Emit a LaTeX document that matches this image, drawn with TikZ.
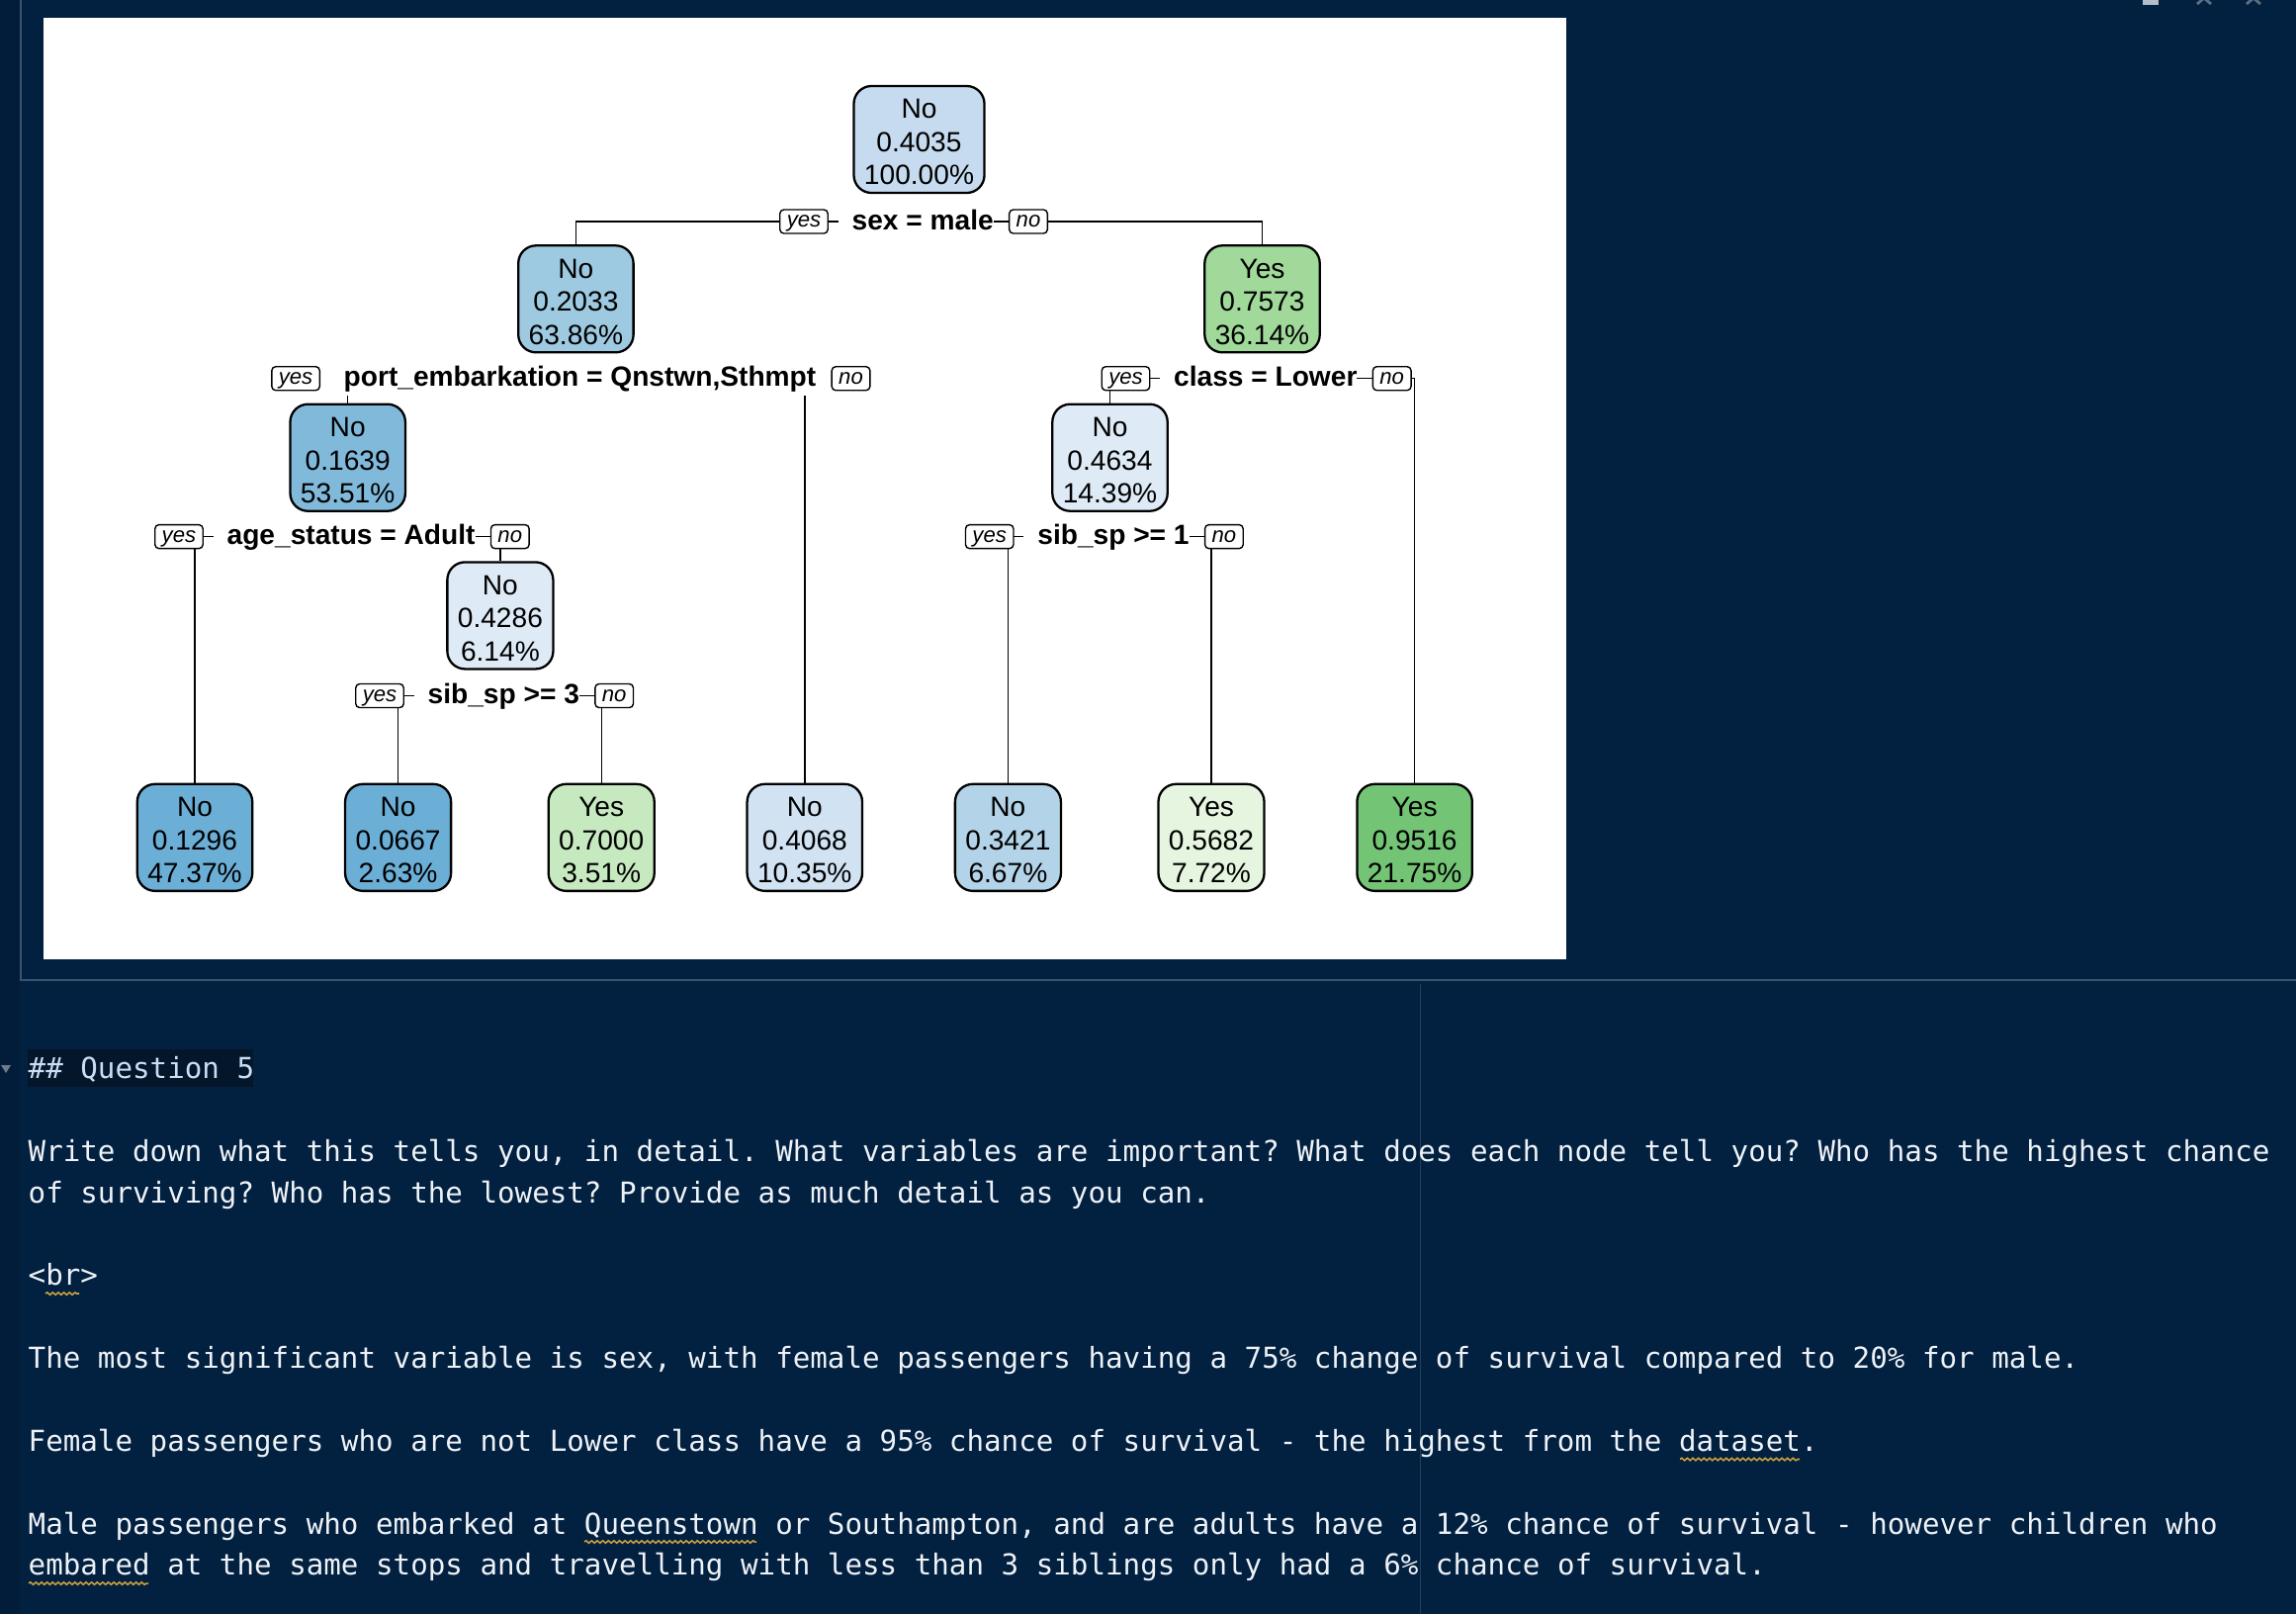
\documentclass[tikz,border=0pt]{standalone}
\usepackage{fontspec}
\setmainfont{Liberation Sans}
\newfontfamily\edfont[WordSpace={1,0,0},PunctuationSpace=WordSpace]{DejaVu Sans Mono}
\usetikzlibrary{decorations.pathmorphing}
\definecolor{bgc}{HTML}{02203F}
\definecolor{gutc}{HTML}{011D3A}
\definecolor{framec}{HTML}{3A536D}
\definecolor{guidec}{HTML}{243E5A}
\definecolor{hlc}{HTML}{04162A}
\definecolor{edtextc}{HTML}{EEF2F7}
\definecolor{headc}{HTML}{C9DDF4}
\definecolor{squigc}{HTML}{C9A040}
\definecolor{foldc}{HTML}{6E7B8B}
\definecolor{iconc}{HTML}{B4BDC8}
\definecolor{chevc}{HTML}{5C6E82}
\definecolor{cA}{HTML}{6BAED6}
\definecolor{cB}{HTML}{80B9DA}
\definecolor{cC}{HTML}{9ECAE1}
\definecolor{cD}{HTML}{B3D3E8}
\definecolor{cE}{HTML}{C6DBEF}
\definecolor{cF}{HTML}{D1E2F3}
\definecolor{cG}{HTML}{DEEBF7}
\definecolor{gA}{HTML}{E5F5E0}
\definecolor{gB}{HTML}{C7E9C0}
\definecolor{gC}{HTML}{A1D99B}
\definecolor{gD}{HTML}{74C476}
\pgfdeclarelayer{back}
\pgfdeclarelayer{edges}
\pgfsetlayers{back,edges,main}
\frenchspacing
\begin{document}
\begin{tikzpicture}[x=0.01cm,y=-0.01cm,
  treebox/.style={draw=black, line width=0.65pt, rounded corners=0.18cm, align=center,
    inner xsep=0.105cm, inner ysep=0pt, minimum height=1.08cm,
    font=\fontsize{8pt}{9.5pt}\selectfont},
  yn/.style={draw=black, line width=0.4pt, fill=white, rounded corners=0.04cm,
    font=\fontsize{6.3pt}{7pt}\selectfont\itshape, inner xsep=0.07cm, inner ysep=0.015cm,
    text height=0.16cm, text depth=0.05cm},
  cond/.style={fill=white, inner xsep=0pt, inner ysep=0.5pt, text height=0.235cm,
    text depth=0.07cm, font=\fontsize{8pt}{9.5pt}\selectfont\bfseries},
  edge/.style={draw=black, line width=0.4pt},
  edtext/.style={inner sep=0pt, anchor=base west, text=edtextc, font=\edfont\fontsize{8.3pt}{10pt}\selectfont},
  squig/.style={draw=squigc, line width=0.45pt, decorate,
    decoration={snake, amplitude=0.35pt, segment length=1.6pt}}]
\useasboundingbox (0,0) rectangle (2322,1632);

\begin{pgfonlayer}{back}
  \fill[bgc] (0,0) rectangle (2322,1632);
  \fill[gutc] (0,0) rectangle (20,1632);
  \fill[white] (44,18) rectangle (1584.3,970);
  \draw[framec, line width=0.5pt] (21,0) -- (21,991) -- (2322,991);
  \draw[guidec, line width=0.4pt] (1436.6,995) -- (1436.6,1632);
  \fill[hlc] (28,1061) rectangle (256,1099);
  \fill[foldc] (1,1077) -- (11,1077) -- (6,1085) -- cycle;
  \fill[iconc] (2167,0) rectangle (2183,5);
  \draw[chevc, line width=0.8pt] (2222,4) -- (2229,-2) -- (2236,4);
  \draw[chevc, line width=0.8pt] (2272,4) -- (2279,-2) -- (2286,4);
\end{pgfonlayer}

% tree nodes
\node[treebox, fill=cE] (n1) at (929.5,141) {\rule{0pt}{0.25cm}No\\0.4035\\100.00\%};
\node[treebox, fill=cC] (n2) at (582.4,302.3) {\rule{0pt}{0.25cm}No\\0.2033\\63.86\%};
\node[treebox, fill=gC] (n3) at (1276.5,302.3) {\rule{0pt}{0.25cm}Yes\\0.7573\\36.14\%};
\node[treebox, fill=cB] (n4) at (351.7,462.7) {\rule{0pt}{0.25cm}No\\0.1639\\53.51\%};
\node[treebox, fill=cG] (n6) at (1122.5,462.7) {\rule{0pt}{0.25cm}No\\0.4634\\14.39\%};
\node[treebox, fill=cG] (n5) at (505.9,622.4) {\rule{0pt}{0.25cm}No\\0.4286\\6.14\%};
\node[treebox, fill=cA] (l1) at (197,846.8) {\rule{0pt}{0.25cm}No\\0.1296\\47.37\%};
\node[treebox, fill=cA] (l2) at (402.6,846.8) {\rule{0pt}{0.25cm}No\\0.0667\\2.63\%};
\node[treebox, fill=gB] (l3) at (608.2,846.8) {\rule{0pt}{0.25cm}Yes\\0.7000\\3.51\%};
\node[treebox, fill=cF] (l4) at (813.8,846.8) {\rule{0pt}{0.25cm}No\\0.4068\\10.35\%};
\node[treebox, fill=cD] (l5) at (1019.4,846.8) {\rule{0pt}{0.25cm}No\\0.3421\\6.67\%};
\node[treebox, fill=gA] (l6) at (1225,846.8) {\rule{0pt}{0.25cm}Yes\\0.5682\\7.72\%};
\node[treebox, fill=gD] (l7) at (1430.6,846.8) {\rule{0pt}{0.25cm}Yes\\0.9516\\21.75\%};

% split labels
\node[cond] (s1) at (926.2,224) {\hspace*{0.14cm}sex = male};
\node[yn, anchor=east] (y1) at ([xshift=-0.09cm]s1.west) {yes};
\node[yn, anchor=west] (o1) at ([xshift=0.145cm]s1.east) {no};

\node[cond] (s2) at (579.5,382.7) {\hspace*{0.14cm}port\_embarkation = Qnstwn,Sthmpt};
\node[yn, anchor=east] (y2) at ([xshift=-0.09cm]s2.west) {yes};
\node[yn, anchor=west] (o2) at ([xshift=0.145cm]s2.east) {no};

\node[cond] (s3) at (1272.8,382.7) {\hspace*{0.14cm}class = Lower};
\node[yn, anchor=east] (y3) at ([xshift=-0.09cm]s3.west) {yes};
\node[yn, anchor=west] (o3) at ([xshift=0.145cm]s3.east) {no};

\node[cond] (s4) at (348.1,542.6) {\hspace*{0.14cm}age\_status = Adult};
\node[yn, anchor=east] (y4) at ([xshift=-0.09cm]s4.west) {yes};
\node[yn, anchor=west] (o4) at ([xshift=0.145cm]s4.east) {no};

\node[cond] (s5) at (1119,542.6) {\hspace*{0.14cm}sib\_sp >= 1};
\node[yn, anchor=east] (y5) at ([xshift=-0.09cm]s5.west) {yes};
\node[yn, anchor=west] (o5) at ([xshift=0.145cm]s5.east) {no};

\node[cond] (s6) at (502.3,703.5) {\hspace*{0.14cm}sib\_sp >= 3};
\node[yn, anchor=east] (y6) at ([xshift=-0.09cm]s6.west) {yes};
\node[yn, anchor=west] (o6) at ([xshift=0.145cm]s6.east) {no};

\begin{pgfonlayer}{edges}
  \draw[edge] (n2.north) |- (s1.center) -| (n3.north);
  \draw[edge] (n4.north) |- (s2.center) -| (l4.north);
  \draw[edge] (n6.north) |- (s3.center) -| (l7.north);
  \draw[edge] (l1.north) |- (s4.center) -| (n5.north);
  \draw[edge] (l5.north) |- (s5.center) -| (l6.north);
  \draw[edge] (l2.north) |- (s6.center) -| (l3.north);
\end{pgfonlayer}

% editor text
\node[edtext, text=headc] (t0) at (28,1090.7) {\#\# Question 5};
\node[edtext] (t2) at (28,1174.4) {Write down what this tells you, in detail. What variables are important? What does each node tell you? Who has the highest chance};
\node[edtext] (t3) at (28,1216.2) {of surviving? Who has the lowest? Provide as much detail as you can.};
\node[edtext] (t5) at (28,1299.9) {<br>};
\node[edtext] (t7) at (28,1383.6) {The most significant variable is sex, with female passengers having a 75\% change of survival compared to 20\% for male.};
\node[edtext] (t9) at (28,1467.3) {Female passengers who are not Lower class have a 95\% chance of survival - the highest from the dataset.};
\node[edtext] (t11) at (28,1551.0) {Male passengers who embarked at Queenstown or Southampton, and are adults have a 12\% chance of survival - however children who};
\node[edtext] (t12) at (28,1592.8) {embared at the same stops and travelling with less than 3 siblings only had a 6\% chance of survival.};

% spell-check squiggles
\draw[squig] (46,1308) -- (80,1308);
\draw[squig] (1699,1475.5) -- (1820,1475.5);
\draw[squig] (591,1559) -- (765,1559);
\draw[squig] (29,1601) -- (150,1601);
\end{tikzpicture}
\end{document}
